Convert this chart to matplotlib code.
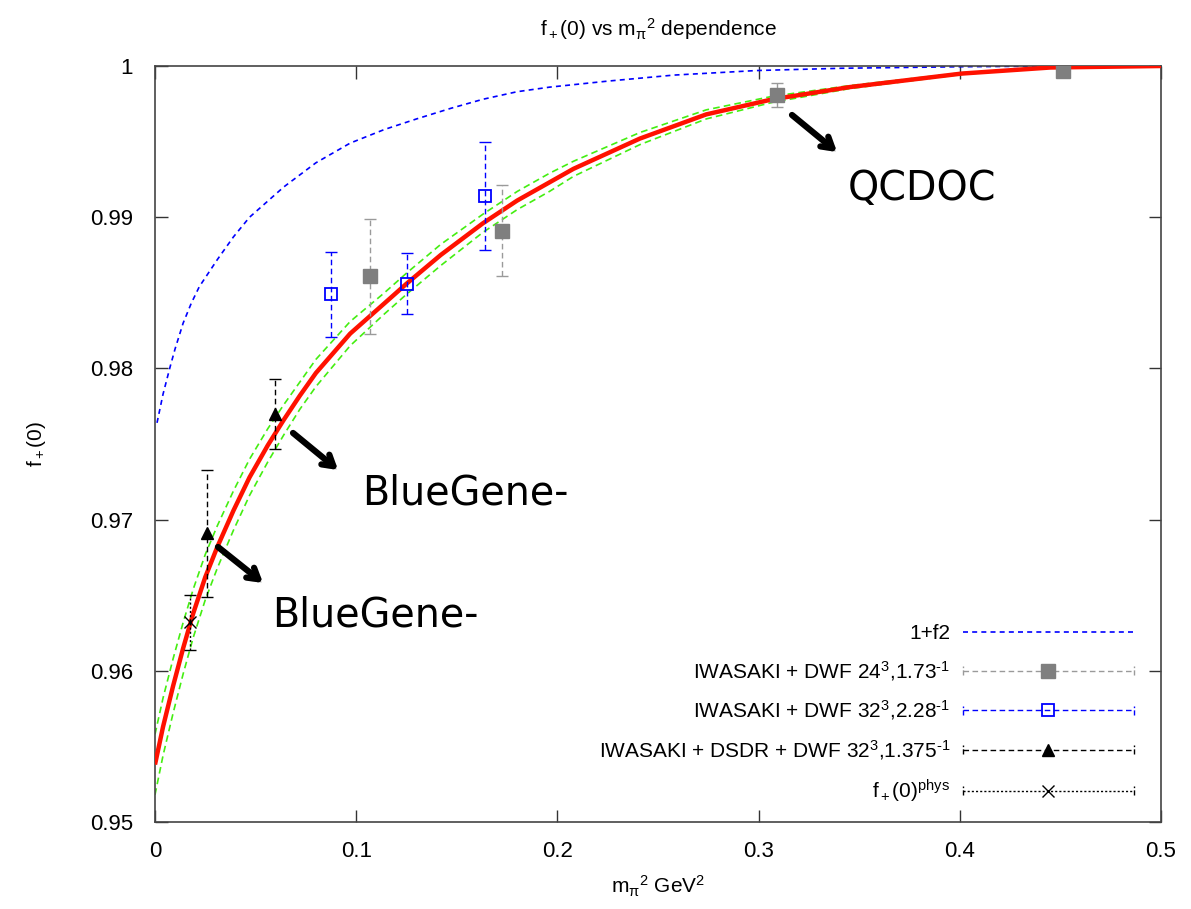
import matplotlib
matplotlib.use("Agg")
import matplotlib.pyplot as plt
import matplotlib.patheffects as pe
from matplotlib.lines import Line2D
from matplotlib.legend_handler import HandlerLine2D

plt.rcParams['font.family'] = ['Liberation Sans', 'DejaVu Sans']
plt.rcParams['mathtext.fontset'] = 'custom'
plt.rcParams['mathtext.rm'] = 'Liberation Sans'
plt.rcParams['mathtext.it'] = 'Liberation Sans'
plt.rcParams['mathtext.bf'] = 'Liberation Sans:bold'

# ---- data -------------------------------------------------------------
# chiral fit (central curve) and its error band half-width
fit_x = [0.000, 0.004, 0.009, 0.014, 0.019, 0.025, 0.031, 0.039, 0.047, 0.056,
         0.064, 0.072, 0.080, 0.097, 0.114, 0.125, 0.142, 0.163, 0.180, 0.196,
         0.208, 0.241, 0.274, 0.307, 0.345, 0.401, 0.445, 0.500]
fit_y = [0.9538, 0.9563, 0.9590, 0.9615, 0.9638, 0.9662, 0.9682, 0.9706, 0.9728, 0.9749,
         0.9766, 0.9782, 0.9797, 0.9823, 0.9843, 0.9856, 0.9875, 0.9896, 0.9911, 0.9923,
         0.9932, 0.9952, 0.9968, 0.9978, 0.9986, 0.9995, 0.9999, 1.0000]
fit_err = [0.0020, 0.0019, 0.0018, 0.0017, 0.0016, 0.0015, 0.0014, 0.0013, 0.0012, 0.0011,
           0.0010, 0.0009, 0.0009, 0.0008, 0.0007, 0.0007, 0.0007, 0.0006, 0.0006, 0.0006,
           0.0005, 0.0004, 0.0003, 0.0002, 0.0001, 0.00005, 0.00002, 0.0]

# NLO term 1 + f2
f2_x = [0.001, 0.004, 0.0075, 0.010, 0.014, 0.018, 0.022, 0.031, 0.039, 0.047,
        0.064, 0.080, 0.097, 0.114, 0.130, 0.147, 0.163, 0.180, 0.196, 0.225,
        0.258, 0.299, 0.341, 0.400, 0.450, 0.500]
f2_y = [0.9764, 0.9783, 0.9801, 0.9813, 0.9830, 0.9843, 0.9854, 0.9872, 0.9887, 0.9900,
        0.9920, 0.9936, 0.9949, 0.9958, 0.9965, 0.9972, 0.9978, 0.9983, 0.9986, 0.9990,
        0.9994, 0.9997, 0.99985, 0.99995, 1.0000, 1.0000]

# IWASAKI + DWF 24^3
l24_x = [0.1069, 0.1723, 0.3090, 0.4513]
l24_y = [0.9861, 0.9891, 0.9981, 0.9997]
l24_e = [0.0038, 0.0030, 0.0008, 0.0002]

# IWASAKI + DWF 32^3
l32_x = [0.0875, 0.1251, 0.1640]
l32_y = [0.9849, 0.9856, 0.9914]
l32_e = [0.0028, 0.0020, 0.0036]

# IWASAKI + DSDR + DWF 32^3
dsdr_x = [0.0257, 0.0596]
dsdr_y = [0.9691, 0.9770]
dsdr_e = [0.0042, 0.0023]

# physical point
phys_x = [0.0174]
phys_y = [0.9632]
phys_e = [0.0018]

x_ticks = [0, 0.1, 0.2, 0.3, 0.4, 0.5]
x_tick_labels = ['0', '0.1', '0.2', '0.3', '0.4', '0.5']
y_ticks = [0.95, 0.96, 0.97, 0.98, 0.99, 1.0]
y_tick_labels = ['0.95', '0.96', '0.97', '0.98', '0.99', '1']

label_f2 = '1+f2'
label_24 = r'IWASAKI + DWF 24$^3$,1.73$^{\text{-1}}$'
label_32 = r'IWASAKI + DWF 32$^3$,2.28$^{\text{-1}}$'
label_dsdr = r'IWASAKI + DSDR + DWF 32$^3$,1.375$^{\text{-1}}$'
label_phys = r'f$_+$(0)$^{\rm phys}$'

# ---- figure -----------------------------------------------------------
fig = plt.figure(figsize=(11.91, 9.09), dpi=100)
ax = fig.add_axes([155 / 1191, 1 - 822 / 909, (1161 - 155) / 1191, (822 - 66) / 909])

GREY = '#7f7f7f'
GREEN = '#44ee11'
dash_eb = (0, (4, 2.5))

# error band and fit
band_lo = [y - e for y, e in zip(fit_y, fit_err)]
band_hi = [y + e for y, e in zip(fit_y, fit_err)]
ax.plot(fit_x, band_lo, color=GREEN, lw=1.2, ls=(0, (4, 2.5)), zorder=2)
ax.plot(fit_x, band_hi, color=GREEN, lw=1.2, ls=(0, (4, 2.5)), zorder=2)
ax.plot(fit_x, fit_y, color='#ff1100', lw=3.2, zorder=3, solid_capstyle='butt',
        solid_joinstyle='round')

# 1 + f2
ax.plot(f2_x, f2_y, color='#0000ff', lw=1.2, ls=(0, (3, 2.5)), zorder=2)


def draw_points(x, y, e, color, ecolor, marker, ms, mfc, ls, mew=1.0):
    eb = ax.errorbar(x, y, yerr=e, fmt='none', ecolor=ecolor, elinewidth=1.0,
                     capsize=4.5, capthick=1.0, zorder=4)
    for c in eb[2]:
        c.set_linestyle(ls)
    ax.plot(x, y, ls='none', marker=marker, ms=ms, color=color, mfc=mfc,
            mec=color, mew=mew, zorder=5)


draw_points(l24_x, l24_y, l24_e, GREY, '#9a9a9a', 's', 9.5, GREY, dash_eb)
draw_points(l32_x, l32_y, l32_e, '#0000ff', '#0000ff', 's', 9, 'none', dash_eb, mew=1.3)
draw_points(dsdr_x, dsdr_y, dsdr_e, 'black', 'black', '^', 9, 'black', dash_eb)
draw_points(phys_x, phys_y, phys_e, 'black', 'black', 'x', 8, 'black', (0, (1.5, 1.5)))

# axes styling
ax.set_xlim(0, 0.5)
ax.set_ylim(0.95, 1.0)
ax.set_xticks(x_ticks)
ax.set_xticklabels(x_tick_labels)
ax.set_yticks(y_ticks)
ax.set_yticklabels(y_tick_labels)
ax.tick_params(direction='in', length=9, width=1, colors='#333333',
               top=True, right=True, labelsize=16, labelcolor='black')
ax.tick_params(axis='x', pad=14)
ax.tick_params(axis='y', pad=16)
for s in ax.spines.values():
    s.set_color('#444444')
    s.set_linewidth(1.2)

ax.set_xlabel(r'm$_\pi$$^2$ GeV$^2$', fontsize=15, labelpad=8)
ax.set_ylabel(r'f$_+$(0)', fontsize=15, labelpad=30)
ax.set_title(r'f$_+$(0) vs m$_\pi$$^2$ dependence', fontsize=15, pad=21.5)


# legend with end ticks on the samples
class CappedHandler(HandlerLine2D):
    def create_artists(self, legend, orig_handle, xdescent, ydescent,
                       width, height, fontsize, trans):
        arts = super().create_artists(legend, orig_handle, xdescent, ydescent,
                                      width, height, fontsize, trans)
        y0 = (height - ydescent) / 2
        h = 0.3 * height
        for xx in (-xdescent, -xdescent + width):
            tick = Line2D([xx, xx], [y0 - h, y0 + h], color=orig_handle.get_color(),
                          lw=1.0, ls=orig_handle.get_linestyle())
            tick.set_transform(trans)
            arts.append(tick)
        return arts


h_f2 = Line2D([], [], color='#0000ff', lw=1.2, ls=(0, (3, 2.5)))
h_24 = Line2D([], [], color='#9a9a9a', lw=1.0, ls=dash_eb, marker='s', ms=9.5,
              mfc=GREY, mec=GREY)
h_32 = Line2D([], [], color='#0000ff', lw=1.0, ls=dash_eb, marker='s', ms=9,
              mfc='none', mec='#0000ff', mew=1.3)
h_dsdr = Line2D([], [], color='black', lw=1.0, ls=dash_eb, marker='^', ms=9,
                mfc='black', mec='black')
h_phys = Line2D([], [], color='black', lw=1.0, ls=(0, (1.5, 1.5)), marker='x', ms=8,
                mfc='black', mec='black')
capped = CappedHandler(numpoints=1)
leg = ax.legend([h_f2, h_24, h_32, h_dsdr, h_phys],
                [label_f2, label_24, label_32, label_dsdr, label_phys],
                handler_map={h_24: capped, h_32: capped, h_dsdr: capped, h_phys: capped},
                loc='lower right', bbox_to_anchor=(0.981, 0.012), frameon=False,
                markerfirst=False, fontsize=15, handlelength=8.2, handletextpad=0.6,
                labelspacing=0.75, borderaxespad=0.0)

# annotations
shadow = [pe.SimplePatchShadow(offset=(2.5, -2.5), alpha=0.35), pe.Normal()]
arrows = [((0.3166, 0.99676), (0.3390, 0.99431)),
          ((0.0686, 0.97573), (0.0910, 0.97328)),
          ((0.0313, 0.96819), (0.0537, 0.96581))]
for tail, tip in arrows:
    a = ax.annotate('', xy=tip, xytext=tail,
                    arrowprops=dict(arrowstyle='->,head_length=0.75,head_width=0.45',
                                    lw=4.5, color='black', shrinkA=0, shrinkB=0,
                                    capstyle='round', joinstyle='round'),
                    zorder=6)
    a.arrow_patch.set_path_effects(shadow)

txt_kw = dict(fontsize=28.5, family='DejaVu Sans', ha='left', va='baseline', zorder=6)
ax.text(0.3444, 0.99114, 'QCDOC', **txt_kw)
ax.text(0.1029, 0.97097, 'BlueGene-', **txt_kw)
ax.text(0.0581, 0.96290, 'BlueGene-', **txt_kw)

fig.savefig('out.png', dpi=100)
